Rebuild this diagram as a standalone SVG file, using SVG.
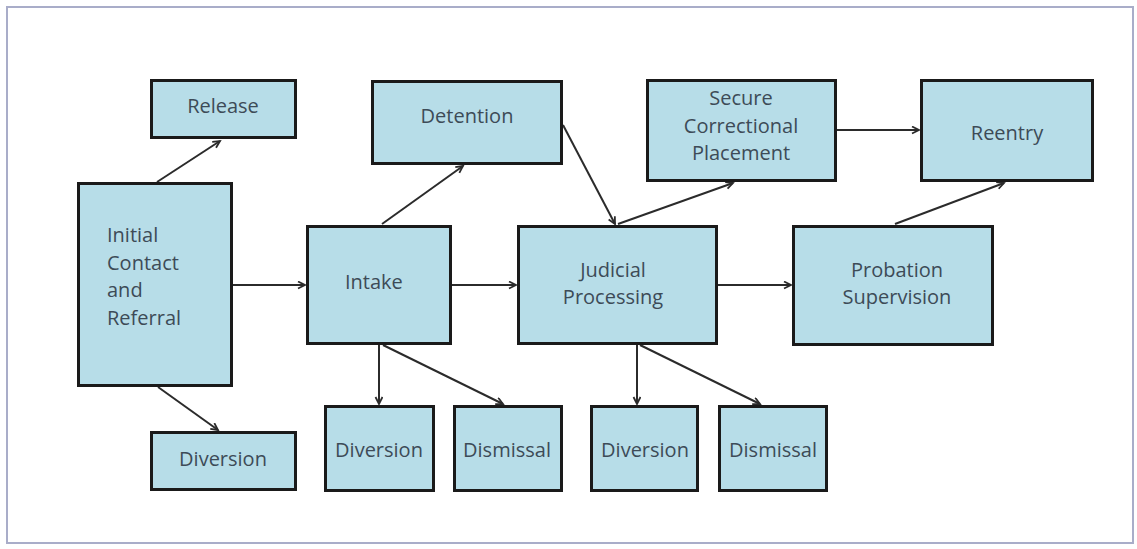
<svg xmlns="http://www.w3.org/2000/svg" width="1137" height="549" viewBox="0 0 1137 549">
<style>
.box{fill:#b7dde8;stroke:#1a1a1a;stroke-width:3}
.lbl{font-family:"Open Sans","Liberation Sans",sans-serif;font-size:20px;fill:#3d4b57;text-anchor:middle}
.lft{text-anchor:start}
.conn{stroke:#2b2b2b;stroke-width:2;fill:none;marker-end:url(#arr)}
</style>
<defs>
<marker id="arr" markerWidth="10" markerHeight="10" refX="8" refY="4" orient="auto" markerUnits="userSpaceOnUse">
<path d="M1,0.5 L8,4 L1,7.5" fill="none" stroke="#2b2b2b" stroke-width="1.8"/>
</marker>
</defs>
<rect x="0" y="0" width="1137" height="549" fill="#ffffff"/>
<rect x="7" y="7" width="1126" height="536" fill="none" stroke="#a9adc9" stroke-width="2"/>
<g id="connectors">
<line class="conn" x1="157" y1="182" x2="220" y2="141"/>
<line class="conn" x1="158" y1="387" x2="218" y2="430"/>
<line class="conn" x1="233" y1="285" x2="305" y2="285"/>
<line class="conn" x1="382" y1="224" x2="463" y2="166"/>
<line class="conn" x1="452" y1="285" x2="516" y2="285"/>
<line class="conn" x1="563" y1="125" x2="615" y2="224"/>
<line class="conn" x1="618" y1="224" x2="733" y2="183"/>
<line class="conn" x1="718" y1="285" x2="791" y2="285"/>
<line class="conn" x1="837" y1="130" x2="919" y2="130"/>
<line class="conn" x1="895" y1="224" x2="1004" y2="183"/>
<line class="conn" x1="379" y1="345" x2="379" y2="404"/>
<line class="conn" x1="383" y1="345" x2="503" y2="404"/>
<line class="conn" x1="637" y1="345" x2="637" y2="404"/>
<line class="conn" x1="640" y1="345" x2="760" y2="404"/>
</g>
<g id="release"><rect class="box" x="151.5" y="80.5" width="144" height="57"/><text class="lbl" x="223" y="113">Release</text></g>
<g id="initial"><rect class="box" x="78.5" y="183.5" width="153" height="202"/>
<text class="lbl lft" x="107" y="242">Initial</text><text class="lbl lft" x="107" y="270">Contact</text><text class="lbl lft" x="107" y="297">and</text><text class="lbl lft" x="107" y="325">Referral</text></g>
<g id="diversion-initial"><rect class="box" x="151.5" y="432.5" width="144" height="57"/><text class="lbl" x="223" y="466">Diversion</text></g>
<g id="intake"><rect class="box" x="307.5" y="226.5" width="143" height="117"/><text class="lbl lft" x="345" y="289">Intake</text></g>
<g id="detention"><rect class="box" x="372.5" y="81.5" width="189" height="82"/><text class="lbl" x="467" y="123">Detention</text></g>
<g id="secure"><rect class="box" x="647.5" y="80.5" width="188" height="100"/>
<text class="lbl" x="741" y="105">Secure</text><text class="lbl" x="741" y="133">Correctional</text><text class="lbl" x="741" y="160">Placement</text></g>
<g id="reentry"><rect class="box" x="921.5" y="80.5" width="171" height="100"/><text class="lbl" x="1007" y="140">Reentry</text></g>
<g id="judicial"><rect class="box" x="518.5" y="226.5" width="198" height="117"/>
<text class="lbl" x="613" y="277">Judicial</text><text class="lbl" x="613" y="304">Processing</text></g>
<g id="probation"><rect class="box" x="793.5" y="226.5" width="199" height="118"/>
<text class="lbl" x="897" y="277">Probation</text><text class="lbl" x="897" y="304">Supervision</text></g>
<g id="diversion-intake"><rect class="box" x="325.5" y="406.5" width="108" height="84"/><text class="lbl" x="379" y="457">Diversion</text></g>
<g id="dismissal-intake"><rect class="box" x="454.5" y="406.5" width="107" height="84"/><text class="lbl" x="507" y="457">Dismissal</text></g>
<g id="diversion-judicial"><rect class="box" x="591.5" y="406.5" width="106" height="84"/><text class="lbl" x="645" y="457">Diversion</text></g>
<g id="dismissal-judicial"><rect class="box" x="719.5" y="406.5" width="107" height="84"/><text class="lbl" x="773" y="457">Dismissal</text></g>
</svg>
